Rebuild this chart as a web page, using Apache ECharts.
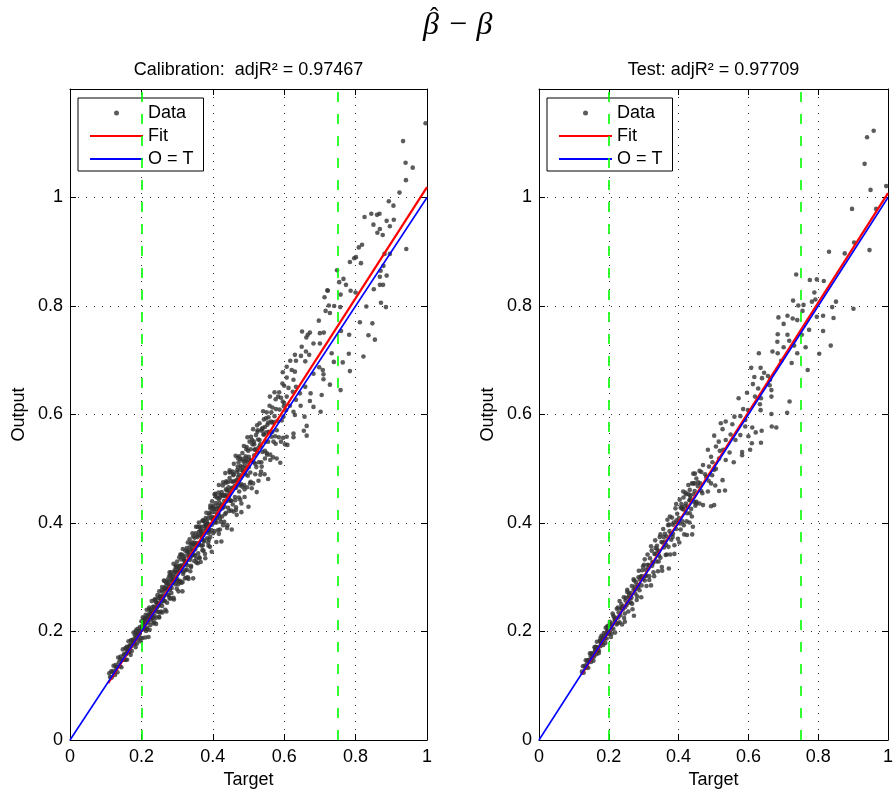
<!DOCTYPE html>
<html><head><meta charset="utf-8">
<script src="https://cdn.jsdelivr.net/npm/echarts@6/dist/echarts.min.js"></script>
<style>html,body{margin:0;padding:0;background:#fff}#c{width:896px;height:796px}</style>
</head><body><div id="c"></div>
<script>
// ---- text ----
const mainTitle = 'β − β';
const mainTitleHat = 'ˆ';
const panelTitles = ['Calibration:  adjR² = 0.97467', 'Test: adjR² = 0.97709'];
const xAxisName = 'Target';
const yAxisName = 'Output';
const legendNames = ['Data', 'Fit', 'O = T'];
// ---- scales ----
const xRange = [0, 1];
const yRange = [0, 1.2];
const tickStep = 0.2;
const yTickLabelMax = 1;
// ---- reference lines ----
const thresholds = [0.2, 0.75];
const identityLine = [[0, 0], [1, 1]];
const calibFit = [[0.107, 0.105], [1, 1.019]];
const testFit = [[0.122, 0.121], [1, 1.008]];
// ---- calibration data (Target, Output) ----
const calibData = [
[0.110,0.123],[0.112,0.116],[0.115,0.126],[0.117,0.115],[0.119,0.127],[0.122,0.137],[0.124,0.125],[0.126,0.120],[0.128,0.138],[0.131,0.135],
[0.133,0.125],[0.135,0.152],[0.137,0.143],[0.139,0.136],[0.142,0.154],[0.144,0.134],[0.146,0.148],[0.148,0.167],[0.151,0.158],[0.153,0.148],
[0.155,0.169],[0.157,0.158],[0.160,0.148],[0.162,0.171],[0.164,0.182],[0.166,0.162],[0.169,0.174],[0.171,0.184],[0.173,0.164],[0.175,0.178],
[0.178,0.198],[0.180,0.179],[0.182,0.193],[0.184,0.171],[0.187,0.193],[0.189,0.205],[0.191,0.185],[0.193,0.195],[0.196,0.208],[0.198,0.188],
[0.200,0.219],[0.141,0.149],[0.158,0.168],[0.168,0.168],[0.177,0.185],[0.186,0.188],[0.194,0.201],[0.150,0.148],[0.129,0.132],[0.185,0.202],
[0.201,0.205],[0.203,0.188],[0.204,0.226],[0.206,0.215],[0.208,0.204],[0.209,0.223],[0.211,0.189],[0.213,0.215],[0.215,0.240],[0.216,0.207],
[0.218,0.229],[0.220,0.190],[0.222,0.228],[0.223,0.241],[0.225,0.212],[0.227,0.228],[0.229,0.256],[0.230,0.224],[0.232,0.245],[0.234,0.215],
[0.236,0.243],[0.238,0.259],[0.239,0.237],[0.241,0.214],[0.243,0.253],[0.245,0.261],[0.247,0.236],[0.248,0.252],[0.250,0.274],[0.252,0.235],
[0.254,0.262],[0.256,0.253],[0.257,0.276],[0.259,0.235],[0.261,0.273],[0.263,0.265],[0.265,0.293],[0.266,0.256],[0.268,0.283],[0.270,0.237],
[0.272,0.278],[0.274,0.296],[0.275,0.268],[0.277,0.288],[0.279,0.261],[0.281,0.284],[0.283,0.309],[0.284,0.271],[0.286,0.295],[0.288,0.305],
[0.290,0.262],[0.292,0.292],[0.293,0.313],[0.295,0.287],[0.297,0.310],[0.299,0.279],[0.300,0.329],[0.212,0.224],[0.226,0.235],[0.237,0.229],
[0.244,0.245],[0.253,0.266],[0.262,0.257],[0.271,0.289],[0.280,0.277],[0.289,0.296],[0.296,0.319],[0.219,0.217],[0.249,0.227],[0.278,0.302],
[0.301,0.296],[0.303,0.318],[0.304,0.274],[0.306,0.337],[0.308,0.312],[0.309,0.293],[0.311,0.333],[0.313,0.322],[0.315,0.274],[0.316,0.352],
[0.318,0.310],[0.320,0.333],[0.322,0.298],[0.323,0.349],[0.325,0.326],[0.327,0.314],[0.329,0.347],[0.330,0.364],[0.332,0.297],[0.334,0.341],
[0.336,0.332],[0.338,0.362],[0.339,0.319],[0.341,0.352],[0.343,0.381],[0.345,0.298],[0.346,0.349],[0.348,0.364],[0.350,0.340],[0.352,0.381],
[0.354,0.327],[0.355,0.363],[0.357,0.377],[0.359,0.344],[0.361,0.401],[0.362,0.360],[0.364,0.377],[0.366,0.328],[0.368,0.393],[0.370,0.375],
[0.371,0.350],[0.373,0.405],[0.375,0.368],[0.377,0.394],[0.379,0.335],[0.380,0.390],[0.382,0.419],[0.384,0.372],[0.386,0.408],[0.388,0.358],
[0.389,0.390],[0.391,0.419],[0.393,0.374],[0.395,0.409],[0.397,0.347],[0.398,0.440],[0.400,0.406],[0.305,0.315],[0.314,0.341],[0.321,0.324],
[0.328,0.322],[0.335,0.355],[0.342,0.341],[0.349,0.373],[0.356,0.358],[0.363,0.393],[0.369,0.358],[0.376,0.385],[0.383,0.402],[0.390,0.385],
[0.396,0.429],[0.312,0.290],[0.337,0.311],[0.358,0.326],[0.374,0.349],[0.392,0.356],[0.347,0.359],[0.367,0.383],[0.387,0.398],
[0.401,0.381],[0.403,0.427],[0.405,0.453],[0.406,0.401],[0.408,0.420],[0.410,0.365],[0.412,0.447],[0.413,0.415],[0.415,0.387],[0.417,0.470],
[0.419,0.437],[0.420,0.408],[0.422,0.452],[0.424,0.366],[0.426,0.434],[0.428,0.469],[0.429,0.396],[0.431,0.452],[0.433,0.430],[0.435,0.492],
[0.437,0.419],[0.438,0.451],[0.440,0.391],[0.442,0.475],[0.444,0.448],[0.446,0.422],[0.447,0.493],[0.449,0.441],[0.451,0.477],[0.453,0.388],
[0.455,0.465],[0.456,0.495],[0.458,0.421],[0.460,0.477],[0.462,0.448],[0.464,0.524],[0.465,0.465],[0.467,0.415],[0.469,0.498],[0.471,0.478],
[0.473,0.447],[0.474,0.523],[0.476,0.469],[0.478,0.498],[0.480,0.420],[0.482,0.518],[0.483,0.467],[0.485,0.496],[0.487,0.542],[0.489,0.448],
[0.491,0.514],[0.492,0.490],[0.494,0.536],[0.496,0.466],[0.498,0.512],[0.500,0.430],[0.404,0.410],[0.411,0.426],[0.418,0.414],[0.425,0.451],
[0.432,0.441],[0.439,0.460],[0.445,0.460],[0.452,0.441],[0.459,0.490],[0.466,0.479],[0.472,0.512],[0.479,0.484],[0.486,0.513],[0.493,0.501],
[0.499,0.533],[0.409,0.437],[0.423,0.402],[0.436,0.474],[0.450,0.494],[0.463,0.442],[0.477,0.443],[0.490,0.506],[0.416,0.456],[0.443,0.428],
[0.470,0.520],
[0.501,0.522],[0.503,0.550],[0.505,0.493],[0.507,0.515],[0.509,0.464],[0.511,0.545],[0.513,0.573],[0.515,0.512],[0.517,0.535],[0.519,0.490],
[0.521,0.562],[0.523,0.457],[0.525,0.530],[0.527,0.554],[0.529,0.512],[0.531,0.584],[0.533,0.545],[0.535,0.495],[0.537,0.573],[0.539,0.531],
[0.541,0.606],[0.543,0.563],[0.545,0.490],[0.547,0.550],[0.549,0.593],[0.551,0.529],[0.553,0.581],[0.555,0.481],[0.557,0.568],[0.559,0.616],
[0.561,0.526],[0.563,0.587],[0.565,0.559],[0.567,0.613],[0.569,0.521],[0.571,0.586],[0.573,0.641],[0.575,0.560],[0.577,0.610],[0.579,0.519],
[0.581,0.588],[0.583,0.633],[0.585,0.558],[0.587,0.609],[0.589,0.511],[0.591,0.631],[0.593,0.589],[0.595,0.657],[0.597,0.557],[0.599,0.615],
[0.506,0.536],[0.516,0.525],[0.526,0.571],[0.536,0.512],[0.546,0.577],[0.556,0.595],[0.566,0.585],[0.576,0.546],[0.586,0.641],[0.596,0.624],
[0.152,0.156],[0.156,0.148],[0.159,0.172],[0.163,0.162],[0.167,0.174],[0.170,0.157],[0.174,0.184],[0.177,0.179],[0.181,0.176],[0.184,0.199],
[0.188,0.178],[0.191,0.196],[0.195,0.196],[0.198,0.182],[0.202,0.210],[0.205,0.219],[0.209,0.205],[0.212,0.231],[0.216,0.204],[0.219,0.223],
[0.223,0.203],[0.226,0.238],[0.230,0.233],[0.233,0.226],[0.237,0.259],[0.240,0.225],[0.244,0.252],[0.247,0.248],[0.250,0.226],
[0.252,0.264],[0.255,0.237],[0.258,0.282],[0.261,0.258],[0.264,0.280],[0.267,0.240],[0.270,0.290],[0.273,0.278],[0.276,0.266],[0.279,0.309],
[0.282,0.261],[0.285,0.296],[0.288,0.290],[0.291,0.259],[0.294,0.310],[0.297,0.322],[0.300,0.294],[0.303,0.311],[0.306,0.291],[0.309,0.342],
[0.312,0.313],[0.315,0.291],[0.318,0.336],[0.321,0.330],[0.324,0.313],[0.327,0.354],[0.330,0.300],[0.333,0.347],[0.336,0.340],[0.339,0.321],
[0.342,0.364],[0.345,0.375],[0.348,0.341],[0.351,0.361],[0.354,0.334],[0.357,0.393],[0.360,0.362],[0.363,0.335],[0.366,0.386],[0.369,0.380],
[0.372,0.359],[0.375,0.404],[0.378,0.343],[0.381,0.396],[0.384,0.388],[0.387,0.364],[0.390,0.415],[0.393,0.427],[0.396,0.387],[0.399,0.411],
[0.402,0.432],[0.405,0.385],[0.408,0.449],[0.411,0.409],[0.414,0.432],[0.417,0.380],[0.420,0.447],[0.423,0.430],[0.426,0.412],[0.429,0.475],
[0.432,0.402],[0.435,0.450],[0.438,0.440],[0.441,0.396],[0.444,0.466],[0.447,0.483],[0.450,0.441],[0.453,0.464],[0.456,0.434],[0.459,0.509],
[0.462,0.465],[0.465,0.429],[0.468,0.494],[0.471,0.485],[0.474,0.458],[0.477,0.517],[0.480,0.436],[0.483,0.503],[0.486,0.492],[0.489,0.462],
[0.492,0.523],[0.495,0.540],[0.498,0.487],[0.501,0.517],[0.504,0.473],[0.507,0.559],[0.510,0.514],[0.513,0.473],[0.516,0.545],[0.519,0.536],
[0.522,0.503],[0.525,0.568],[0.528,0.478],[0.531,0.553],[0.534,0.541],[0.537,0.504],[0.540,0.575],[0.543,0.591],[0.546,0.533],[0.549,0.567],
[0.552,0.526],[0.555,0.585],[0.558,0.567],[0.561,0.516],[0.564,0.604],[0.567,0.568],[0.570,0.550],[0.573,0.597],[0.576,0.628],[0.579,0.571],
[0.204,0.205],[0.209,0.225],[0.213,0.201],[0.218,0.228],[0.222,0.244],[0.227,0.221],[0.231,0.238],[0.236,0.217],[0.240,0.255],[0.245,0.267],
[0.249,0.248],[0.254,0.259],[0.258,0.247],[0.263,0.294],[0.267,0.278],[0.272,0.253],[0.276,0.292],[0.281,0.303],[0.285,0.280],[0.290,0.325],
[0.294,0.296],[0.299,0.319],[0.303,0.287],[0.308,0.320],[0.312,0.342],[0.317,0.306],[0.321,0.330],[0.326,0.299],[0.330,0.348],[0.335,0.370],
[0.339,0.338],[0.344,0.349],[0.348,0.330],[0.353,0.393],[0.357,0.374],[0.362,0.337],[0.366,0.389],[0.371,0.404],[0.375,0.366],[0.380,0.409],
[0.384,0.399],[0.389,0.369],[0.393,0.432],[0.398,0.397],[0.402,0.426],[0.407,0.454],[0.411,0.401],[0.416,0.427],[0.420,0.388],[0.425,0.457],
[0.429,0.450],[0.434,0.416],[0.438,0.477],[0.443,0.447],[0.447,0.497],[0.452,0.423],[0.456,0.476],[0.461,0.468],[0.465,0.424],[0.470,0.504],
[0.474,0.489],[0.479,0.472],[0.483,0.529],[0.488,0.470],[0.492,0.519],[0.497,0.558],[0.501,0.503],[0.506,0.476],[0.510,0.553],[0.515,0.550],
[0.519,0.509],[0.524,0.580],[0.528,0.539],[0.533,0.489],[0.537,0.570],[0.542,0.563],[0.546,0.519],[0.551,0.604],[0.555,0.550],[0.560,0.633],
[0.157,0.160],[0.161,0.165],[0.166,0.170],[0.171,0.173],[0.176,0.181],[0.183,0.187],[0.190,0.194],[0.197,0.203],[0.207,0.212],[0.214,0.220],
[0.221,0.232],[0.228,0.231],[0.235,0.246],[0.242,0.240],[0.251,0.262],[0.259,0.265],[0.268,0.278],[0.277,0.283],[0.287,0.301],[0.296,0.302],
[0.306,0.321],[0.315,0.320],[0.324,0.340],[0.333,0.336],[0.342,0.360],[0.351,0.352],[0.361,0.384],[0.370,0.369],[0.379,0.398],[0.388,0.381],
[0.398,0.420],[0.407,0.405],[0.417,0.444],[0.427,0.427],[0.437,0.462],[0.447,0.455],[0.457,0.488],[0.467,0.470],[0.478,0.505],[0.488,0.495],
[0.722,0.828],[0.871,0.806],[0.885,0.798],[0.725,0.801],[0.740,0.800],[0.757,0.798],[0.716,0.791],[0.728,0.787],[0.830,0.799],[0.812,0.770],
[0.847,0.768],[0.697,0.773],[0.650,0.753],[0.666,0.747],[0.672,0.751],[0.700,0.750],[0.711,0.751],[0.662,0.742],[0.836,0.746],[0.854,0.738],
[0.782,0.747],[0.759,0.754],[0.682,0.731],[0.700,0.731],[0.649,0.725],[0.661,0.716],[0.630,0.710],[0.647,0.708],[0.670,0.710],[0.733,0.713],
[0.781,0.712],[0.822,0.707],[0.739,0.697],[0.764,0.696],[0.617,0.699],[0.633,0.699],[0.659,0.698],[0.607,0.688],[0.621,0.682],[0.698,0.687],
[0.708,0.682],[0.784,0.680],[0.596,0.678],[0.630,0.679],[0.682,0.675],[0.710,0.674],[0.607,0.668],[0.626,0.664],[0.710,0.665],[0.600,0.653],
[0.612,0.649],[0.633,0.651],[0.659,0.651],[0.728,0.655],[0.758,0.645],[0.624,0.642],[0.644,0.639],[0.674,0.639],[0.705,0.636],[0.607,0.633],
[0.633,0.627],[0.672,0.625],[0.600,0.621],[0.616,0.616],[0.646,0.616],[0.682,0.614],[0.605,0.608],[0.626,0.605],[0.630,0.599],[0.657,0.596],
[0.702,0.605],[0.598,0.596],[0.663,0.579],[0.655,0.570],[0.663,0.561],[0.626,0.565],[0.626,0.558],[0.607,0.559],[0.602,0.545],[0.591,0.550],
[0.609,0.544],
[0.996,1.137],[0.933,1.104],[0.940,1.064],[0.960,1.055],[0.941,1.032],[0.923,1.009],[0.893,0.993],[0.906,0.985],[0.825,0.964],[0.844,0.970],
[0.860,0.968],[0.867,0.970],[0.887,0.957],[0.907,0.959],[0.850,0.950],[0.868,0.942],[0.896,0.947],[0.861,0.935],[0.876,0.931],[0.809,0.908],
[0.818,0.913],[0.942,0.905],[0.784,0.881],[0.796,0.888],[0.801,0.890],[0.815,0.879],[0.881,0.896],[0.896,0.896],[0.878,0.874],[0.870,0.865],
[0.887,0.856],[0.868,0.854],[0.748,0.866],[0.754,0.844],[0.766,0.850],[0.773,0.839],[0.721,0.829],[0.713,0.816],[0.786,0.828],[0.758,0.821],
[0.800,0.825],[0.851,0.831],[0.868,0.839],[0.877,0.839]
];
// ---- test data (Target, Output) ----
const testData = [
[0.123,0.126],[0.126,0.136],[0.128,0.124],[0.131,0.137],[0.134,0.147],[0.136,0.134],[0.139,0.147],[0.141,0.133],[0.144,0.148],[0.146,0.160],
[0.149,0.144],[0.151,0.160],[0.154,0.155],[0.156,0.146],[0.159,0.171],[0.161,0.166],[0.164,0.158],[0.166,0.181],[0.169,0.171],[0.171,0.160],
[0.174,0.183],[0.176,0.173],[0.179,0.192],[0.181,0.185],[0.184,0.175],[0.186,0.197],[0.189,0.188],[0.191,0.207],[0.194,0.187],[0.196,0.202],
[0.199,0.211],[0.148,0.155],[0.163,0.171],[0.178,0.179],[0.193,0.196],[0.133,0.133],
[0.201,0.197],[0.203,0.218],[0.206,0.190],[0.208,0.214],[0.211,0.233],[0.213,0.205],[0.216,0.226],[0.218,0.198],[0.221,0.224],[0.223,0.242],
[0.226,0.215],[0.228,0.235],[0.231,0.256],[0.233,0.230],[0.236,0.250],[0.238,0.213],[0.241,0.246],[0.243,0.263],[0.246,0.233],[0.248,0.257],
[0.251,0.249],[0.253,0.277],[0.256,0.237],[0.258,0.270],[0.261,0.262],[0.263,0.254],[0.266,0.284],[0.268,0.241],[0.271,0.277],[0.273,0.294],
[0.276,0.270],[0.278,0.291],[0.281,0.265],[0.283,0.285],[0.286,0.312],[0.288,0.276],[0.291,0.301],[0.293,0.263],[0.296,0.313],[0.298,0.297],
[0.246,0.218],[0.272,0.229],
[0.301,0.323],[0.303,0.294],[0.306,0.314],[0.308,0.284],[0.311,0.342],[0.313,0.316],[0.316,0.302],[0.318,0.335],[0.321,0.285],[0.323,0.349],
[0.326,0.326],[0.328,0.309],[0.331,0.343],[0.333,0.368],[0.336,0.329],[0.338,0.358],[0.341,0.311],[0.343,0.348],[0.346,0.374],[0.348,0.336],
[0.351,0.365],[0.353,0.312],[0.356,0.389],[0.358,0.355],[0.361,0.380],[0.363,0.341],[0.366,0.375],[0.368,0.406],[0.371,0.356],[0.373,0.397],
[0.376,0.342],[0.378,0.380],[0.381,0.410],[0.383,0.374],[0.386,0.401],[0.388,0.343],[0.391,0.427],[0.393,0.389],[0.396,0.417],[0.398,0.371],
[0.401,0.409],[0.403,0.443],[0.406,0.388],[0.408,0.435],[0.411,0.403],[0.413,0.458],[0.416,0.379],[0.418,0.431],[0.421,0.453],[0.423,0.403],
[0.426,0.430],[0.428,0.470],[0.431,0.401],[0.433,0.451],[0.436,0.426],[0.438,0.473],[0.441,0.393],[0.443,0.453],[0.446,0.473],[0.448,0.432],
[0.439,0.379],[0.372,0.316],
[0.153,0.158],[0.158,0.154],[0.162,0.172],[0.167,0.168],[0.172,0.164],[0.176,0.188],[0.181,0.179],[0.185,0.191],[0.190,0.179],[0.195,0.209],
[0.199,0.196],[0.204,0.212],[0.208,0.196],[0.213,0.229],[0.217,0.219],[0.222,0.213],[0.226,0.244],[0.231,0.217],[0.235,0.242],[0.240,0.241],
[0.244,0.225],[0.249,0.262],[0.253,0.273],[0.258,0.253],[0.262,0.271],[0.267,0.251],[0.271,0.296],[0.276,0.278],[0.280,0.258],[0.285,0.300],
[0.289,0.296],[0.294,0.285],[0.298,0.320],[0.303,0.333],[0.307,0.303],[0.312,0.323],[0.316,0.295],[0.321,0.357],[0.325,0.328],[0.330,0.302],
[0.334,0.354],[0.339,0.351],[0.343,0.329],[0.348,0.379],[0.352,0.319],[0.357,0.374],[0.361,0.366],[0.366,0.342],[0.370,0.396],[0.375,0.412],
[0.379,0.369],[0.384,0.397],[0.388,0.359],[0.393,0.435],[0.397,0.401],[0.402,0.364],[0.406,0.428],[0.411,0.426],[0.415,0.396],[0.420,0.456],
[0.424,0.378],[0.429,0.453],[0.433,0.442],[0.438,0.412],[0.442,0.473],[0.447,0.491],[0.451,0.439],[0.456,0.475],[0.460,0.436],[0.465,0.494],
[0.138,0.141],[0.143,0.146],[0.152,0.151],[0.160,0.163],[0.168,0.166],[0.177,0.181],[0.187,0.186],[0.197,0.202],[0.207,0.205],[0.217,0.223],
[0.227,0.226],[0.237,0.244],[0.247,0.245],[0.257,0.264],[0.265,0.262],[0.275,0.283],[0.284,0.281],[0.294,0.302],[0.304,0.302],[0.314,0.322],
[0.324,0.321],[0.334,0.343],[0.344,0.340],[0.354,0.364],[0.364,0.360],[0.374,0.385],[0.384,0.380],[0.394,0.405],[0.404,0.399],[0.414,0.425],
[0.424,0.418],[0.434,0.446],[0.444,0.439],[0.455,0.468],[0.465,0.459],[0.476,0.490],[0.486,0.478],[0.497,0.512],[0.507,0.500],[0.518,0.533],
[0.694,0.699],[0.724,0.695],[0.770,0.682],[0.608,0.686],[0.635,0.686],[0.645,0.677],[0.656,0.671],[0.617,0.669],[0.639,0.667],[0.662,0.664],
[0.613,0.656],[0.628,0.648],[0.661,0.654],[0.666,0.645],[0.572,0.630],[0.596,0.640],[0.619,0.633],[0.636,0.630],[0.666,0.633],[0.633,0.619],
[0.718,0.624],[0.585,0.610],[0.599,0.608],[0.635,0.608],[0.666,0.601],[0.711,0.603],[0.560,0.596],[0.577,0.597],[0.591,0.590],[0.535,0.587],
[0.554,0.582],[0.521,0.584],[0.591,0.578],[0.611,0.576],[0.621,0.567],[0.638,0.570],[0.667,0.578],[0.680,0.576],[0.526,0.573],[0.549,0.563],
[0.577,0.562],[0.600,0.560],[0.636,0.548],[0.502,0.561],[0.515,0.550],[0.535,0.553],[0.563,0.553],[0.610,0.547],[0.484,0.535],[0.507,0.541],
[0.528,0.535],[0.546,0.530],[0.582,0.531],[0.605,0.535],[0.516,0.519],[0.535,0.516],[0.558,0.512],[0.582,0.525],[0.493,0.522],[0.470,0.507],
[0.487,0.504],[0.502,0.498],[0.460,0.496],[0.442,0.491],[0.479,0.485],[0.496,0.488],[0.526,0.479],[0.533,0.460],[0.516,0.459],[0.451,0.482],
[0.462,0.473],[0.493,0.473],[0.505,0.469],[0.432,0.461],[0.446,0.459],[0.468,0.455],[0.484,0.458],[0.414,0.447],[0.431,0.442],[0.451,0.436],
[0.470,0.433],[0.493,0.431],[0.409,0.429],[0.421,0.436],[0.502,0.433],[0.432,0.418],
[0.959,1.123],[0.940,1.111],[0.933,1.062],[0.950,1.014],[0.995,1.021],[0.897,0.979],[0.966,0.979],[0.903,0.917],[0.876,0.897],[0.947,0.903],
[0.831,0.900],[0.737,0.858],[0.776,0.848],[0.816,0.846],[0.796,0.849],[0.789,0.825],[0.792,0.812],[0.782,0.808],[0.728,0.810],[0.743,0.801],
[0.758,0.802],[0.755,0.791],[0.851,0.808],[0.840,0.798],[0.901,0.795],[0.686,0.779],[0.712,0.782],[0.727,0.777],[0.740,0.774],[0.701,0.767],
[0.796,0.780],[0.814,0.782],[0.844,0.778],[0.774,0.756],[0.814,0.754],[0.684,0.748],[0.712,0.747],[0.753,0.747],[0.683,0.734],[0.717,0.736],
[0.731,0.727],[0.764,0.724],[0.701,0.724],[0.836,0.727],[0.669,0.716],[0.630,0.713],[0.684,0.713],[0.740,0.713],[0.803,0.712]
];

const FONT = '"Liberation Sans", Arial, Helvetica, sans-serif';
const FS = 18;
const dotIcon = 'path://M0,0M53,14M24,7A2.5,2.5,0,1,0,29,7A2.5,2.5,0,1,0,24,7Z';
const lineIcon = 'path://M0,0M53,14M0,6H53V8H0Z';
const gridBoxes = [
  {left: 70, top: 89, width: 357, height: 651},
  {left: 539, top: 89, width: 356, height: 651}
];
const panels = [calibData, testData];
const fits = [calibFit, testFit];

const tickLabelFmt = v => (v > yTickLabelMax + 1e-9 ? '' : String(Math.round(v * 10) / 10));
const splitStyle = {show: true, lineStyle: {color: '#333', width: 1, type: [1, 7]}};
const axisLineStyle = {show: true, onZero: false, lineStyle: {color: '#000', width: 1}};
const tickStyle = {show: true, inside: true, length: 6, lineStyle: {color: '#000', width: 1}};

const xAxes = [], yAxes = [], series = [], legends = [];
gridBoxes.forEach((g, i) => {
  xAxes.push({
    gridIndex: i, type: 'value', position: 'bottom', min: xRange[0], max: xRange[1], interval: tickStep,
    axisLine: axisLineStyle, axisTick: tickStyle, splitLine: splitStyle,
    axisLabel: {color: '#000', fontSize: FS, fontFamily: FONT, margin: 8, formatter: tickLabelFmt},
    name: xAxisName, nameLocation: 'middle', nameGap: 29,
    nameTextStyle: {color: '#000', fontSize: FS, fontFamily: FONT}
  });
  xAxes.push({
    gridIndex: i, type: 'value', position: 'top', min: xRange[0], max: xRange[1], interval: tickStep,
    axisLine: axisLineStyle, axisTick: tickStyle, splitLine: {show: false}, axisLabel: {show: false},
    name: panelTitles[i], nameLocation: 'middle', nameGap: 10,
    nameTextStyle: {color: '#000', fontSize: FS, fontFamily: FONT}
  });
  yAxes.push({
    gridIndex: i, type: 'value', position: 'left', min: yRange[0], max: yRange[1], interval: tickStep,
    axisLine: axisLineStyle, axisTick: tickStyle, splitLine: splitStyle,
    axisLabel: {color: '#000', fontSize: FS, fontFamily: FONT, margin: 7, formatter: tickLabelFmt},
    name: yAxisName, nameLocation: 'middle', nameGap: 42,
    nameTextStyle: {color: '#000', fontSize: FS, fontFamily: FONT}
  });
  yAxes.push({
    gridIndex: i, type: 'value', position: 'right', min: yRange[0], max: yRange[1], interval: tickStep,
    axisLine: axisLineStyle, axisTick: tickStyle, splitLine: {show: false}, axisLabel: {show: false}
  });
  const xi = i * 2, yi = i * 2;
  series.push({
    name: legendNames[0], type: 'scatter', xAxisIndex: xi, yAxisIndex: yi, data: panels[i],
    symbol: 'circle', symbolSize: 4.6, itemStyle: {color: '#333333'}, z: 2, large: false,
    markLine: {
      silent: true, symbol: ['none', 'none'], label: {show: false}, animation: false,
      lineStyle: {color: '#00ff00', width: 1.6, type: [10, 12]},
      emphasis: {disabled: true},
      data: thresholds.map(t => ({xAxis: t}))
    }
  });
  series.push({
    name: legendNames[1], type: 'line', xAxisIndex: xi, yAxisIndex: yi, data: fits[i],
    symbol: 'none', lineStyle: {color: '#ff0000', width: 2.2}, itemStyle: {color: '#ff0000'}, z: 4
  });
  series.push({
    name: legendNames[2], type: 'line', xAxisIndex: xi, yAxisIndex: yi, data: identityLine,
    symbol: 'none', lineStyle: {color: '#0000ff', width: 1.6}, itemStyle: {color: '#0000ff'}, z: 5
  });
  legends.push({
    left: g.left + 8, top: 98, orient: 'vertical', selectedMode: false,
    data: [
      {name: legendNames[0], icon: dotIcon},
      {name: legendNames[1], icon: lineIcon},
      {name: legendNames[2], icon: lineIcon}
    ],
    itemWidth: 53, itemHeight: 14, itemGap: 5,
    backgroundColor: '#fff', borderColor: '#000', borderWidth: 1, borderRadius: 0,
    padding: [6, 10, 3, 12],
    textStyle: {color: '#000', fontSize: FS, fontFamily: FONT}
  });
});

const titleFont = '"Liberation Serif", "DejaVu Serif", serif';
const chart = echarts.init(document.getElementById('c'), null, {renderer: 'canvas'});
chart.setOption({
  animation: false,
  backgroundColor: '#fff',
  title: [
    {
      text: mainTitle, left: 418, top: 5,
      textStyle: {fontSize: 32, fontWeight: 'normal', fontStyle: 'italic', fontFamily: titleFont, color: '#000'}
    },
    {
      text: mainTitleHat, left: 425, top: 1,
      textStyle: {fontSize: 25, fontWeight: 'normal', fontFamily: titleFont, color: '#000'}
    }
  ],
  grid: gridBoxes.map(g => Object.assign({containLabel: false}, g)),
  xAxis: xAxes,
  yAxis: yAxes,
  legend: legends,
  series: series
});
</script>
</body></html>
